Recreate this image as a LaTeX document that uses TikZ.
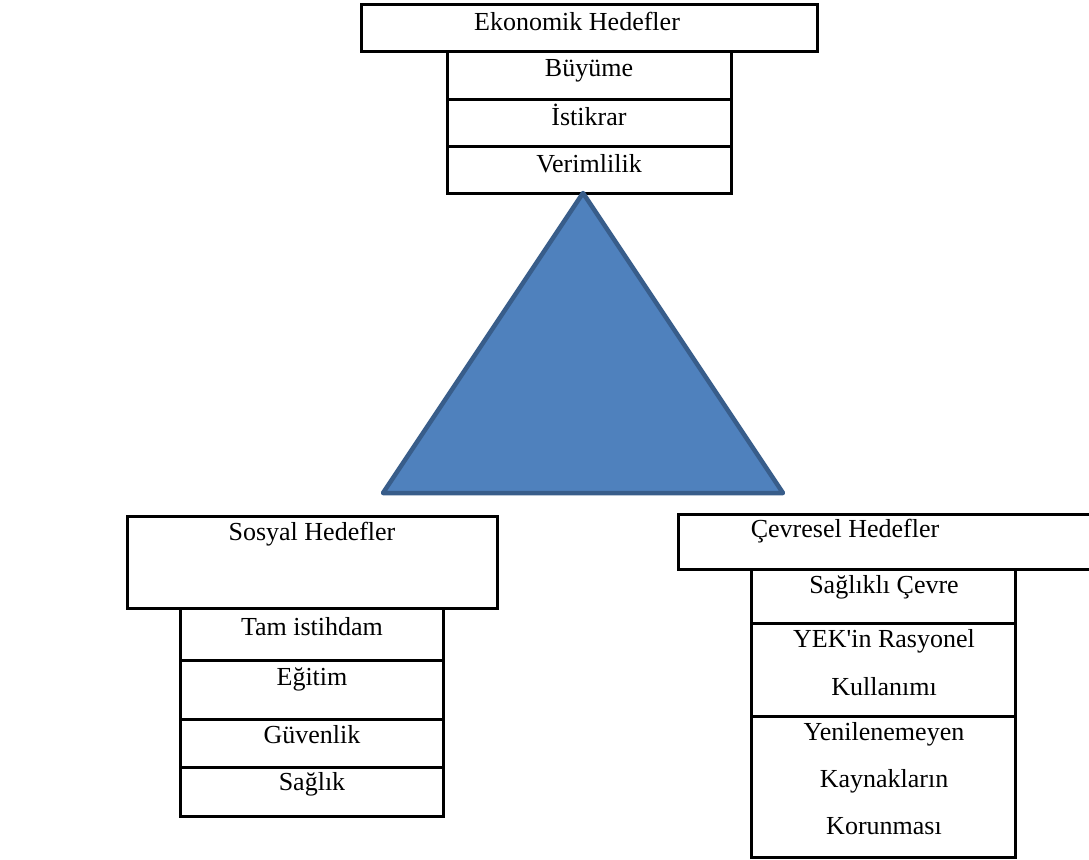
\documentclass[tikz,border=0pt]{standalone}
\usepackage{fontspec}
\newfontfamily\diagfont{Liberation Serif}
\begin{document}
\begin{tikzpicture}[x=1pt,y=-1pt,
  box/.style={draw=black,line width=3pt,fill=white},
  lbl/.style={anchor=base,inner sep=0pt,outer sep=0pt,font=\diagfont\fontsize{26}{31}\selectfont}]
\definecolor{triFill}{RGB}{79,129,189}
\definecolor{triDraw}{RGB}{56,93,138}
\useasboundingbox (0,0) rectangle (1089,859);
\fill[white] (0,0) rectangle (1089,859);

% ekonomik hedefler
\path[box] (447, 52) rectangle (731, 99);
\path[box] (447, 99) rectangle (731,146);
\path[box] (447,146) rectangle (731,193);
\path[box] (361,  5) rectangle (817, 52);
\node[lbl] (eko) at (577, 31) {Ekonomik Hedefler};
\node[lbl] (buy) at (589, 77) {Büyüme};
\node[lbl] (ist) at (589,125) {İstikrar};
\node[lbl] (ver) at (589,172) {Verimlilik};

% triangle
\coordinate (top) at (583,193);
\coordinate (bl) at (383,493);
\coordinate (br) at (783,493);
\path[draw=triDraw,fill=triFill,line width=4.5pt,line join=round] (top) -- (br) -- (bl) -- cycle;

% sosyal hedefler
\path[box] (180,608) rectangle (443,660);
\path[box] (180,660) rectangle (443,719);
\path[box] (180,719) rectangle (443,767);
\path[box] (180,767) rectangle (443,816);
\path[box] (127,516) rectangle (497,608);
\node[lbl] (sos) at (312,540) {Sosyal Hedefler};
\node[lbl] (tam) at (312,635) {Tam istihdam};
\node[lbl] (egi) at (312,685) {Eğitim};
\node[lbl] (guv) at (312,743) {Güvenlik};
\node[lbl] (sag) at (312,790) {Sağlık};

% cevresel hedefler
\path[box] (751,569) rectangle (1015,623);
\path[box] (751,623) rectangle (1015,716);
\path[box] (751,716) rectangle (1015,857);
\path[box] (678,514) rectangle (1100,569);
\node[lbl] (cev) at (845,537) {Çevresel Hedefler};
\node[lbl] (scv) at (884,593) {Sağlıklı Çevre};
\node[lbl] (yek1) at (884,647) {YEK'in Rasyonel};
\node[lbl] (yek2) at (884,695) {Kullanımı};
\node[lbl] (yen1) at (884,740) {Yenilenemeyen};
\node[lbl] (yen2) at (884,787) {Kaynakların};
\node[lbl] (yen3) at (884,834) {Korunması};
\end{tikzpicture}
\end{document}
